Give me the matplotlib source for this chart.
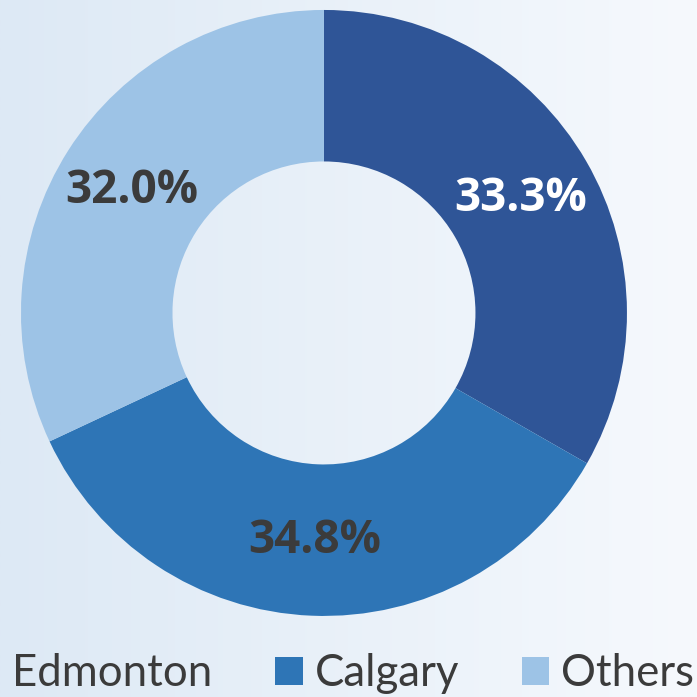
import numpy as np
import matplotlib
matplotlib.use("Agg")
import matplotlib.pyplot as plt
from matplotlib.colors import LinearSegmentedColormap

labels = ["Edmonton", "Calgary", "Others"]
shares = [33.3, 34.8, 32.0]
colors = ["#2F5597", "#2E75B6", "#9DC3E6"]
label_colors = ["white", "#3B3B3B", "#3B3B3B"]

fig = plt.figure(figsize=(6.97, 6.97), dpi=100)

# gradient background
bg = fig.add_axes([0, 0, 1, 1])
cmap = LinearSegmentedColormap.from_list("bg", ["#DDE9F5", "#F6F9FD"])
bg.imshow(np.linspace(0, 1, 256).reshape(1, -1), cmap=cmap, aspect="auto",
          extent=[0, 1, 0, 1])
bg.axis("off")

ax = fig.add_axes([0.4648 - 0.4347, 0.551 - 0.4347, 0.8694, 0.8694])
ax.set_facecolor("none")
wedges, texts, autotexts = ax.pie(
    shares, colors=colors, startangle=90, counterclock=False,
    radius=1, pctdistance=0.75, autopct="%.1f%%",
    wedgeprops=dict(width=0.5, edgecolor="none"),
    textprops=dict(fontsize=33, fontweight="bold", family="Open Sans"))
for t, c in zip(autotexts, label_colors):
    t.set_color(c)
ax.set_xlim(-1, 1)
ax.set_ylim(-1, 1)
ax.set_aspect("equal")
ax.axis("off")

leg = fig.legend(wedges, labels, ncol=3, loc="lower left",
                 bbox_to_anchor=(-0.039, 0.004), frameon=False,
                 borderpad=0, borderaxespad=0,
                 handlelength=0.62, handleheight=0.62, handletextpad=0.27,
                 columnspacing=1.45,
                 prop=dict(family="Lato", size=31.5))
for t in leg.get_texts():
    t.set_color("#3B3B3B")

fig.savefig("out.png", dpi=100)
